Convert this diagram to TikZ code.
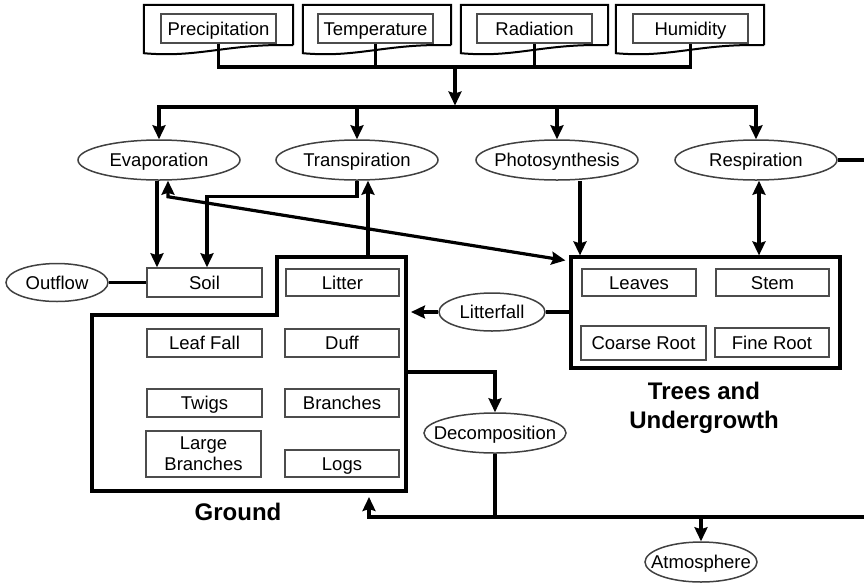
\documentclass[tikz,border=0pt]{standalone}
\usepackage{fontspec}
\setmainfont{Liberation Sans}
\usetikzlibrary{arrows.meta,shapes.geometric}

% text of zero width, so an oval keeps the size given to it
\newcommand\tx[1]{\makebox[0pt]{#1}}
% outline of a document shape around a node
\newcommand\drawdoc[1]{%
  \draw[line width=2pt] (#1.south east) -- (#1.north east) -- (#1.north west)
    -- ([yshift=-8pt]#1.south west)
    .. controls ([xshift=55pt,yshift=-13pt]#1.south west)
    and ([xshift=-65pt,yshift=2pt]#1.south east) .. (#1.south east);}

\begin{document}
\begin{tikzpicture}[x=1pt,y=-1pt,
  every node/.style={font=\fontsize{18.5}{21}\selectfont, inner sep=0pt},
  oneline/.style={text height=13.5pt, text depth=0.5pt},
  boxline/.style={draw=black!70, line width=1.5pt},
  inbox/.style={boxline, oneline, minimum height=28pt, minimum width=114pt},
  oval/.style={ellipse, draw=black!75, line width=1.5pt, oneline, minimum width=#1, minimum height=40pt},
  docbox/.style={minimum width=#1, minimum height=40pt},
  frame/.style={draw, line width=3.2pt},
  link/.style={line width=3.2pt},
  tip/.tip={Stealth[length=14pt,width=13pt,inset=2pt]},
  arr/.style={link, -tip},
  darr/.style={link, tip-tip},
  title/.style={font=\fontsize{24}{29}\selectfont\bfseries, align=center}
]
\useasboundingbox (0,0) rectangle (864,582);

% climate drivers
\node[docbox=149pt] (precdoc) at (218.5,25) {};
\node[docbox=148pt] (tempdoc) at (377,25) {};
\node[docbox=147pt] (raddoc)  at (534.5,25) {};
\node[docbox=148pt] (humdoc)  at (690,25) {};
\drawdoc{precdoc}\drawdoc{tempdoc}\drawdoc{raddoc}\drawdoc{humdoc}
\node[inbox, minimum width=115pt, minimum height=29pt] (prec) at (218.5,28.5) {Precipitation};
\node[inbox, minimum width=115pt, minimum height=29pt] (temp) at (375.5,28.5) {Temperature};
\node[inbox, minimum width=115pt, minimum height=29pt] (rad)  at (534.5,28.5) {Radiation};
\node[inbox, minimum width=115pt, minimum height=29pt] (hum)  at (690.5,28.5) {Humidity};

% processes
\node[oval=162pt] (evap)   at (159,160) {\tx{Evaporation}};
\node[oval=162pt] (transp) at (357,160) {\tx{Transpiration}};
\node[oval=162pt] (photo)  at (557,160) {\tx{Photosynthesis}};
\node[oval=162pt] (resp)   at (756,160) {\tx{Respiration}};
\node[oval=102pt, minimum height=38pt] (outf) at (57,282.5) {\tx{Outflow}};
\node[oval=106pt, minimum height=38pt] (litf) at (492,312) {\tx{Litterfall}};
\node[oval=142pt] (decomp) at (495,433) {\tx{Decomposition}};
\node[oval=112pt] (atmos)  at (701,562) {\tx{Atmosphere}};

% soil
\node[inbox, minimum width=115pt, minimum height=29pt] (soil) at (204.5,282.5) {Soil};

% ground compartment
\coordinate (gA) at (277,257);
\coordinate (gB) at (406,257);
\coordinate (gC) at (406,491);
\coordinate (gD) at (92,491);
\coordinate (gE) at (92,315);
\coordinate (gF) at (277,315);
\draw[frame] (gA) -- (gB) -- (gC) -- (gD) -- (gE) -- (gF) -- cycle;
\node[inbox, minimum width=113pt, minimum height=27pt] (litter) at (342.5,282.5) {Litter};
\node[inbox, minimum width=115pt] (leaf)  at (204.5,343) {Leaf Fall};
\node[inbox] (duff)  at (342,343) {Duff};
\node[inbox, minimum width=115pt] (twigs) at (204.5,403) {Twigs};
\node[inbox] (branch) at (342,403) {Branches};
\node[boxline, minimum width=115pt, minimum height=46pt, align=center,
      font=\fontsize{18.5}{21}\selectfont] (large) at (203.5,454) {Large\\Branches};
\node[inbox, minimum height=27pt] (logs) at (342,463.5) {Logs};
\node[title] (groundlbl) at (238,512) {Ground};

% trees compartment
\node[frame, minimum width=269pt, minimum height=111pt] (trees) at (705.5,312.5) {};
\node[inbox, minimum height=27pt] (leaves) at (639,282.5) {Leaves};
\node[inbox, minimum width=113pt, minimum height=27pt] (stem) at (772.5,282.5) {Stem};
\node[inbox, minimum width=125pt, minimum height=34pt] (coarse) at (643.5,343) {Coarse Root};
\node[inbox, minimum height=29pt] (fine) at (772,342.5) {Fine Root};
\node[title] (treeslbl) at (704,407.5) {Trees and\\Undergrowth};

% drivers to processes
\coordinate (topbus) at (455,67);
\coordinate (midbus) at (455,107);
\draw[link] (prec.south) |- (topbus) -| (hum.south);
\draw[link] (temp.south) -- (temp.south |- topbus);
\draw[link] (rad.south) -- (rad.south |- topbus);
\draw[arr] (topbus) -- ([yshift=1.5pt]midbus);
\draw[arr] (midbus) -| (evap.north);
\draw[arr] (midbus) -| (resp.north);
\draw[arr] (transp.north |- midbus) -- (transp.north);
\draw[arr] (photo.north |- midbus) -- (photo.north);

% water fluxes
\draw[arr] ([xshift=-2pt]evap.south) -- ([xshift=-2pt]evap.south |- soil.north);
\draw[arr] (transp.south) -- ++(0,16) -| ([xshift=2.5pt]soil.north);
\coordinate (gtop) at (368,257);
\draw[arr] (gtop) -- (gtop |- transp.south);
\draw[darr] ([xshift=9pt]evap.south) -- ++(0,16) -- ([xshift=-4pt,yshift=-5pt]trees.north west);
\draw[link] (outf.east) -- (soil.west);

% carbon fluxes
\draw[arr] ([xshift=23pt]photo.south) -- ([xshift=23pt]photo.south |- trees.north);
\draw[darr] ([xshift=3pt]resp.south) -- ([xshift=3pt]resp.south |- trees.north);
\coordinate (respout) at (864,160);
\draw[link] (resp.east) -- (respout);
\draw[link] (trees.west |- litf.east) -- (litf.east);
\coordinate (gin) at (411,312);
\draw[arr] (litf.west) -- (gin);
\coordinate (gout) at (406,372);
\draw[arr] (gout) -| (decomp.north);
\coordinate (botbus) at (495,517);
\coordinate (botright) at (864,517);
\coordinate (gback) at (369,497);
\draw[link] (decomp.south) -- (botbus);
\draw[arr] (botright) -| (gback);
\draw[arr] (atmos.north |- botbus) -- (atmos.north);
\end{tikzpicture}
\end{document}
